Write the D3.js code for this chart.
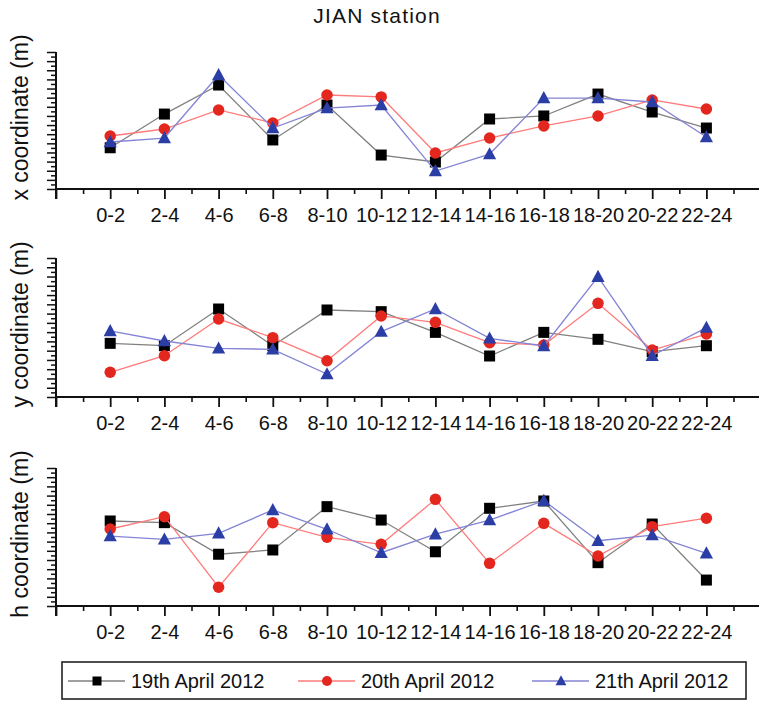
<!DOCTYPE html>
<html>
<head>
<meta charset="utf-8">
<script src="https://cdn.jsdelivr.net/npm/d3@7/dist/d3.min.js"></script>
<style>
  html, body { margin: 0; padding: 0; background: #fff; }
  svg { display: block; }
  text { font-family: "Liberation Sans", Arial, sans-serif; fill: #111; }
</style>
</head>
<body>
<script>
// ---------------- DATA ----------------
const categories = ["0-2","2-4","4-6","6-8","8-10","10-12","12-14","14-16","16-18","18-20","20-22","22-24"];
const seriesNames = ["19th April 2012", "20th April 2012", "21th April 2012"];
const panelTitles = ["x coordinate (m)", "y coordinate (m)", "h coordinate (m)"];

// relative values (0 = bottom of axis, 100 = top of axis); axis has no numeric labels
const xApr19 = [30.1, 54.7, 75.9, 35.8, 61.3, 24.8, 19.7, 51.1, 53.3, 69.3, 56.2, 44.5];
const xApr20 = [38.7, 43.8, 57.7, 48.2, 68.6, 67.2, 26.3, 37.2, 46.0, 53.3, 65.0, 58.4];
const xApr21 = [34.3, 37.2, 83.2, 44.5, 59.1, 61.3, 13.1, 25.5, 66.4, 66.4, 63.5, 38.0];

const yApr19 = [38.6, 36.9, 63.3, 36.9, 62.6, 61.4, 46.5, 29.5, 46.5, 41.5, 32.6, 36.9];
const yApr20 = [17.8, 29.7, 56.1, 42.7, 26.1, 58.3, 53.7, 39.1, 37.4, 67.4, 33.8, 45.3];
const yApr21 = [47.5, 40.3, 35.0, 34.3, 16.5, 47.0, 63.3, 42.2, 36.7, 86.5, 29.7, 49.9];

const hApr19 = [61.6, 60.4, 37.5, 40.6, 72.0, 62.3, 39.3, 70.8, 76.1, 31.4, 59.4, 18.8];
const hApr20 = [55.8, 64.7, 13.6, 60.4, 49.8, 44.7, 77.3, 30.9, 59.9, 36.2, 57.5, 63.6];
const hApr21 = [50.7, 48.3, 52.7, 69.6, 55.6, 38.6, 52.0, 62.3, 76.3, 47.3, 51.4, 38.2];

const panelData = [
  [xApr19, xApr20, xApr21],
  [yApr19, yApr20, yApr21],
  [hApr19, hApr20, hApr21]
];

// ---------------- STYLE / LAYOUT ----------------
const W = 759, H = 701;
const styles = [
  { line: "#808080", fill: "#000000", shape: "square" },
  { line: "#ff7b7b", fill: "#e3261e", shape: "circle" },
  { line: "#8484d6", fill: "#2a3ea6", shape: "triangle" }
];
const panels = [
  { top: 52,  bottom: 189 },
  { top: 258, bottom: 397 },
  { top: 468, bottom: 606 }
];
const axisLeft = 56;
const step = 54.2;

const svg = d3.select("body").append("svg").attr("width", W).attr("height", H);

svg.append("text")
  .attr("x", 377).attr("y", 23)
  .attr("text-anchor", "middle")
  .style("font-size", "21px")
  .style("letter-spacing", "1.2px")
  .text("JIAN station");

const x = d3.scaleLinear().domain([0, 13]).range([axisLeft, axisLeft + 13 * step]);

function drawMarker(g, shape, cx, cy, size, fill) {
  if (shape === "square") {
    g.append("rect").attr("x", cx - size / 2).attr("y", cy - size / 2)
      .attr("width", size).attr("height", size).attr("fill", fill);
  } else if (shape === "circle") {
    g.append("circle").attr("cx", cx).attr("cy", cy).attr("r", size / 2).attr("fill", fill);
  } else {
    const w = size * 1.2, h = size * 1.05;
    g.append("path")
      .attr("d", `M${cx},${cy - h * 0.6}L${cx + w / 2},${cy + h * 0.45}L${cx - w / 2},${cy + h * 0.45}Z`)
      .attr("fill", fill);
  }
}

panels.forEach((p, pi) => {
  const y = d3.scaleLinear().domain([0, 100]).range([p.bottom, p.top]);
  const g = svg.append("g");

  // x axis: major ticks at integer positions, minor at half positions
  const xMinor = d3.axisBottom(x).tickValues(d3.range(0.5, 13, 1)).tickSize(5).tickFormat("");
  const gxm = g.append("g").attr("transform", `translate(0,${p.bottom})`).call(xMinor);
  gxm.select(".domain").remove();
  gxm.selectAll("line").attr("stroke", "#111").attr("stroke-width", 1.6);

  const xMajor = d3.axisBottom(x).tickValues(d3.range(0, 13, 1)).tickSize(10)
    .tickFormat(d => (d >= 1 && d <= 12) ? categories[d - 1] : "");
  const gx = g.append("g").attr("transform", `translate(0,${p.bottom})`).call(xMajor);
  gx.select(".domain").remove();
  gx.selectAll("line").attr("stroke", "#111").attr("stroke-width", 1.8);
  gx.selectAll("text").attr("y", 33).attr("dy", 0)
    .style("font-size", "20px").style("font-family", "Liberation Sans, Arial, sans-serif").attr("fill", "#111");

  // y axis: 30 intervals, alternating long / short ticks, no labels
  const yTicks = d3.range(0, 31).map(i => i * 100 / 30);
  const yAx = d3.axisLeft(y).tickValues(yTicks).tickSize(0).tickFormat("");
  const gy = g.append("g").attr("transform", `translate(${axisLeft},0)`).call(yAx);
  gy.select(".domain").remove();
  gy.selectAll(".tick line")
    .attr("x2", (d, i) => i % 2 === 0 ? -9 : -5)
    .attr("stroke", "#111").attr("stroke-width", 1.5);

  // axis lines
  g.append("line").attr("x1", axisLeft).attr("x2", W).attr("y1", p.bottom).attr("y2", p.bottom)
    .attr("stroke", "#111").attr("stroke-width", 2);
  g.append("line").attr("x1", axisLeft).attr("x2", axisLeft).attr("y1", p.top).attr("y2", p.bottom + 10)
    .attr("stroke", "#111").attr("stroke-width", 2);

  // axis title
  g.append("text")
    .attr("transform", `translate(28,${(p.top + p.bottom) / 2 - 3}) rotate(-90)`)
    .attr("text-anchor", "middle")
    .style("font-size", "23px")
    .text(panelTitles[pi]);

  // series
  const line = d3.line().x((d, i) => x(i + 1)).y(d => y(d));
  panelData[pi].forEach((vals, si) => {
    const st = styles[si];
    const sg = g.append("g");
    sg.append("path").datum(vals).attr("d", line)
      .attr("fill", "none").attr("stroke", st.line).attr("stroke-width", 1.3);
    vals.forEach((v, i) => drawMarker(sg, st.shape, x(i + 1), y(v), st.shape === "circle" ? 11.5 : 11, st.fill));
  });
});

// legend
const lg = svg.append("g");
lg.append("rect").attr("x", 62).attr("y", 662).attr("width", 684).attr("height", 37)
  .attr("fill", "#fff").attr("stroke", "#222").attr("stroke-width", 1.6);
const legendX = [68, 298, 532];
seriesNames.forEach((name, si) => {
  const st = styles[si];
  const lx = legendX[si], ly = 681;
  lg.append("line").attr("x1", lx).attr("x2", lx + 57).attr("y1", ly).attr("y2", ly)
    .attr("stroke", st.line).attr("stroke-width", 1.5);
  drawMarker(lg, st.shape, lx + 29, ly, st.shape === "circle" ? 10 : 9, st.fill);
  lg.append("text").attr("x", lx + 63).attr("y", ly + 7)
    .style("font-size", "20px").text(name);
});
</script>
</body>
</html>
